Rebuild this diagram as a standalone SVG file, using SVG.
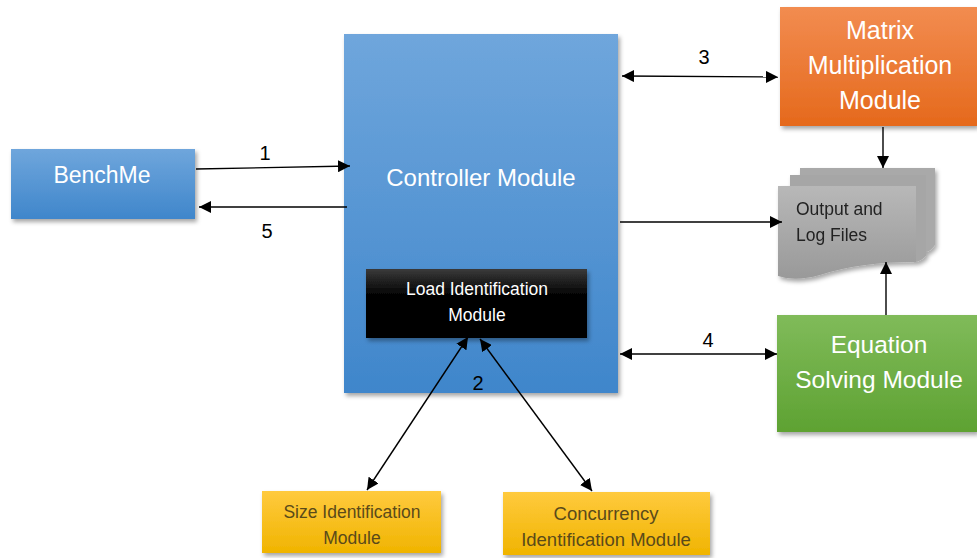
<svg xmlns="http://www.w3.org/2000/svg" width="977" height="558" viewBox="0 0 977 558">
<defs>
<linearGradient id="gBlue" x1="0" y1="0" x2="0" y2="1"><stop offset="0" stop-color="#6fa6dc"/><stop offset="1" stop-color="#3f86cb"/></linearGradient>
<linearGradient id="gBlack" x1="0" y1="0" x2="0" y2="1"><stop offset="0" stop-color="#3a3a3a"/><stop offset="0.4" stop-color="#000"/><stop offset="1" stop-color="#000"/></linearGradient>
<linearGradient id="gOrange" x1="0" y1="0" x2="0" y2="1"><stop offset="0" stop-color="#f28c50"/><stop offset="1" stop-color="#e5691c"/></linearGradient>
<linearGradient id="gGreen" x1="0" y1="0" x2="0" y2="1"><stop offset="0" stop-color="#80bb5a"/><stop offset="1" stop-color="#5ea232"/></linearGradient>
<linearGradient id="gYellow" x1="0" y1="0" x2="0" y2="1"><stop offset="0" stop-color="#ffca3e"/><stop offset="1" stop-color="#f0b400"/></linearGradient>
<linearGradient id="gGray" x1="0" y1="0" x2="0" y2="1"><stop offset="0" stop-color="#b8b8b8"/><stop offset="1" stop-color="#999"/></linearGradient>
<filter id="sh" x="-10%" y="-10%" width="125%" height="130%"><feDropShadow dx="2" dy="3" stdDeviation="2" flood-color="#000" flood-opacity="0.35"/></filter>
<marker id="ah" viewBox="0 0 10 10" refX="10" refY="5" markerWidth="12" markerHeight="12" markerUnits="userSpaceOnUse" orient="auto-start-reverse"><path d="M0,0 L10,5 L0,10 z" fill="#000"/></marker>
</defs>
<style>
.t{font-family:"Liberation Sans",Arial,sans-serif;text-anchor:middle;}
.w{fill:#fff;}
.d{fill:#5a4a1a;}
.n{font-family:"Liberation Sans",Arial,sans-serif;font-size:20px;fill:#000;text-anchor:middle;}
.c{stroke:#000;stroke-width:1.4;fill:none;}
</style>
<rect width="977" height="558" fill="#fff"/>
<g id="controller">
<rect x="344" y="34" width="274" height="359" fill="url(#gBlue)" filter="url(#sh)"/>
<text class="t w" x="481" y="186" font-size="24">Controller Module</text>
</g>
<g id="load">
<rect x="366" y="269" width="221" height="69" fill="url(#gBlack)" filter="url(#sh)"/>
<text class="t w" x="477" y="295" font-size="17.5">Load Identification</text>
<text class="t w" x="477" y="321" font-size="17.5">Module</text>
</g>
<g id="benchme">
<rect x="11" y="149" width="184" height="70" fill="url(#gBlue)" filter="url(#sh)"/>
<text class="t w" x="102" y="183" font-size="23">BenchMe</text>
</g>
<g id="matrix">
<rect x="780" y="7" width="197" height="119" fill="url(#gOrange)" filter="url(#sh)"/>
<text class="t w" x="880" y="39" font-size="25">Matrix</text>
<text class="t w" x="880" y="74" font-size="25">Multiplication</text>
<text class="t w" x="880" y="109" font-size="25">Module</text>
</g>
<g id="output" filter="url(#sh)">
<path d="M800,168 L935,168 L935,245 Q930,252 926,252 L800,252 Z" fill="#a9a9a9"/>
<path d="M790,175 L926,175 L926,256 Q920,262 914,262 L790,262 Z" fill="#a6a6a6"/>
<path d="M778,186 L916,186 L916,262 Q860,262 820,275 Q795,282 778,276 Z" fill="url(#gGray)"/>
<text x="796" y="215" font-family="Liberation Sans,Arial,sans-serif" font-size="17.5" fill="#222">Output and</text>
<text x="796" y="241" font-family="Liberation Sans,Arial,sans-serif" font-size="17.5" fill="#222">Log Files</text>
</g>
<g id="equation">
<rect x="777" y="315" width="200" height="117" fill="url(#gGreen)" filter="url(#sh)"/>
<text class="t w" x="879" y="353" font-size="24.5">Equation</text>
<text class="t w" x="879" y="388" font-size="24.5">Solving Module</text>
</g>
<g id="size">
<rect x="262" y="491" width="179" height="62" fill="url(#gYellow)" filter="url(#sh)"/>
<text class="t d" x="352" y="518" font-size="17.5">Size Identification</text>
<text class="t d" x="352" y="544" font-size="17.5">Module</text>
</g>
<g id="concurrency">
<rect x="503" y="492" width="207" height="63" fill="url(#gYellow)" filter="url(#sh)"/>
<text class="t d" x="606" y="520" font-size="18.5">Concurrency</text>
<text class="t d" x="606" y="546" font-size="18.5">Identification Module</text>
</g>
<g id="connectors">
<line class="c" x1="196" y1="169" x2="350" y2="166" marker-end="url(#ah)"/>
<line class="c" x1="347" y1="207" x2="199" y2="207" marker-end="url(#ah)"/>
<line class="c" x1="622" y1="76" x2="778" y2="77" marker-start="url(#ah)" marker-end="url(#ah)"/>
<line class="c" x1="620" y1="354" x2="777" y2="354" marker-start="url(#ah)" marker-end="url(#ah)"/>
<line class="c" x1="620" y1="222" x2="782" y2="222" marker-end="url(#ah)"/>
<line class="c" x1="883" y1="127" x2="883" y2="168" marker-end="url(#ah)"/>
<line class="c" x1="886" y1="315" x2="886" y2="262" marker-end="url(#ah)"/>
<line class="c" x1="468" y1="337" x2="367" y2="490" marker-start="url(#ah)" marker-end="url(#ah)"/>
<line class="c" x1="480" y1="339" x2="592" y2="491" marker-start="url(#ah)" marker-end="url(#ah)"/>
<text class="n" x="265" y="160">1</text>
<text class="n" x="267" y="238">5</text>
<text class="n" x="704" y="64">3</text>
<text class="n" x="708" y="347">4</text>
<text class="n" x="478" y="390">2</text>
</g>
</svg>
